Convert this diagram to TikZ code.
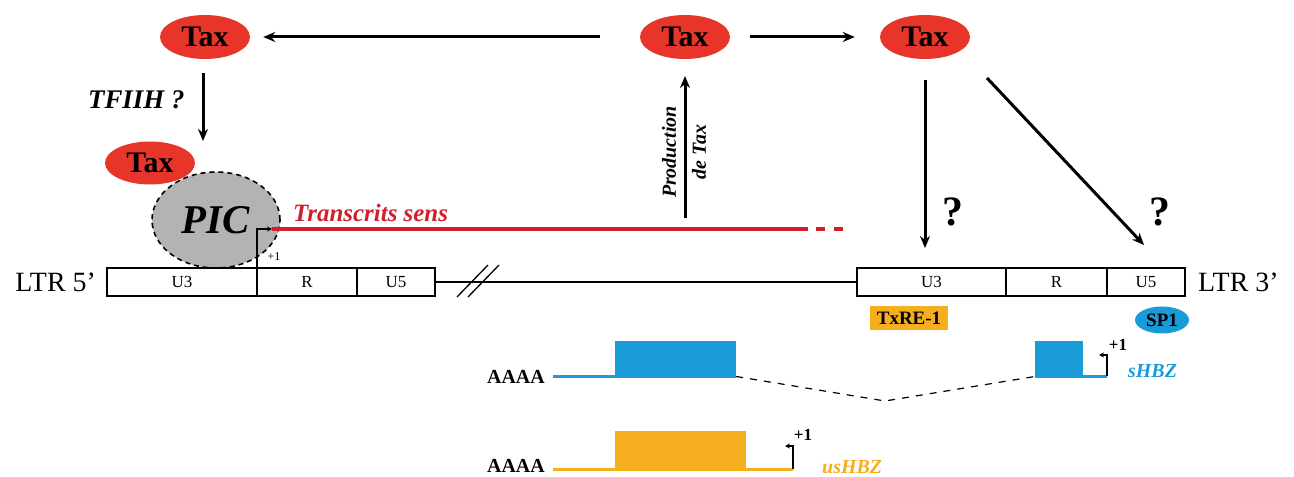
\documentclass[tikz,border=0pt]{standalone}
\usepackage{fontspec}
\setmainfont{Liberation Serif}
\usetikzlibrary{arrows.meta,shapes.geometric,positioning}
\definecolor{taxred}{HTML}{E8352A}
\definecolor{picgray}{HTML}{B3B3B3}
\definecolor{sensred}{HTML}{D0202E}
\definecolor{hbzblue}{HTML}{1A9AD6}
\definecolor{hbzorange}{HTML}{F5AE1E}
\begin{document}
\begin{tikzpicture}[x=1bp,y=-1bp,
    tax/.style={ellipse,fill=taxred,minimum width=90bp,minimum height=44bp,inner sep=0pt,
      font=\fontsize{30}{30}\selectfont\bfseries},
    fleche/.style={line width=3bp,-{Stealth[length=12bp,width=10bp]}},
    seg/.style={draw,line width=1.3bp,minimum height=28bp,inner sep=0pt,outer sep=0pt,
      font=\fontsize{17}{17}\selectfont},
    petit/.style={line width=1.3bp,-{Stealth[length=5bp,width=5bp]}},
    plusun/.style={font=\fontsize{17}{17}\selectfont\bfseries,inner sep=0pt},
    poly/.style={font=\fontsize{20}{20}\selectfont\bfseries,inner sep=0pt},
    quest/.style={font=\fontsize{42}{42}\selectfont\bfseries,inner sep=0pt}]
  \useasboundingbox (0,0) rectangle (1294,477);

  % Tax du haut
  \node[tax] (T1) at (205,37) {Tax};
  \node[tax] (T2) at (685,37) {Tax};
  \node[tax] (T3) at (925,37) {Tax};
  \draw[fleche] ([xshift=-40bp]T2.west) -- ([xshift=13bp]T1.east);
  \draw[fleche] ([xshift=20bp]T2.east) -- ([xshift=-25bp]T3.west);

  % PIC sur le LTR 5'
  \coordinate (d1) at (203,73);
  \coordinate (d2) at (203,141);
  \draw[fleche] (d1) -- (d2);
  \node[anchor=east,font=\fontsize{27}{27}\selectfont\bfseries\itshape] (tfiih) at (188,100) {TFIIH ?};
  \node[ellipse,draw,dash pattern=on 5bp off 4bp,line width=1.6bp,fill=picgray,minimum width=128bp,minimum height=96bp,
    inner sep=0pt,font=\fontsize{41}{41}\selectfont\bfseries\itshape] (PIC) at (216,220) {PIC};
  \node[tax,minimum height=43bp] (T4) at (150,163) {Tax};

  % LTR 5'
  \node[seg,minimum width=150bp] (u3a) at (182,282) {U3};
  \node[seg,minimum width=100bp,right=0pt of u3a] (ra) {R};
  \node[seg,minimum width=78bp,right=0pt of ra] (u5a) {U5};
  \node[anchor=east,inner sep=0pt,font=\fontsize{28}{28}\selectfont] (ltr5) at ([xshift=-11bp]u3a.west) {LTR 5’};

  % LTR 3'
  \node[seg,minimum width=149bp] (u3b) at (931.5,282) {U3};
  \node[seg,minimum width=101bp,right=0pt of u3b] (rb) {R};
  \node[seg,minimum width=78bp,right=0pt of rb] (u5b) {U5};
  \node[anchor=west,inner sep=0pt,font=\fontsize{28}{28}\selectfont] (ltr3) at ([xshift=13bp]u5b.east) {LTR 3’};

  \draw[line width=1.3bp] (u5a.east) -- (u3b.west);
  \draw[line width=1.3bp] (457,297) -- (488,265) (468,297) -- (499,265);

  % transcription sens
  \coordinate (tss) at (u3a.north east);
  \coordinate (s0) at (272,229);
  \coordinate (s1) at (808,229);
  \coordinate (s2) at (852,229);
  \draw[petit] (tss) |- (s0);
  \node[font=\fontsize{12}{12}\selectfont,inner sep=0pt] (p1) at (274,257) {+1};
  \draw[sensred,line width=3.5bp] (s0) -- (s1);
  \draw[sensred,line width=3.5bp,dash pattern=on 9bp off 9bp] ([xshift=8bp]s1) -- (s2);
  \node[sensred,anchor=west,inner sep=0pt,font=\fontsize{25}{25}\selectfont\bfseries\itshape] (sens) at (293,213) {Transcrits sens};

  % production de Tax
  \coordinate (pr1) at (685,218);
  \coordinate (pr2) at (685,76);
  \draw[fleche] (pr1) -- (pr2);
  \node[rotate=90,align=center,inner sep=0pt,font=\fontsize{20}{30}\selectfont\bfseries\itshape] (prod) at (684,152) {Production\\de Tax};

  % Tax sur le LTR 3'
  \coordinate (q1) at (925,80);
  \coordinate (q2) at (925,248);
  \coordinate (q3) at (987,78);
  \coordinate (q4) at (1144,245);
  \draw[fleche] (q1) -- (q2);
  \draw[fleche] (q3) -- (q4);
  \node[quest] (qa) at (953,212) {?};
  \node[quest] (qb) at (1160,212) {?};
  \node[fill=hbzorange,minimum width=78bp,minimum height=24bp,inner sep=0pt,
    font=\fontsize{19}{19}\selectfont\bfseries] (txre) at (909,318) {TxRE-1};
  \node[ellipse,fill=hbzblue,minimum width=54bp,minimum height=27bp,inner sep=0pt,
    font=\fontsize{19}{19}\selectfont\bfseries] (sp1) at (1162,320) {SP1};

  % sHBZ
  \node[poly] (aaa1) at (516,377) {AAAA};
  \node[fill=hbzblue,minimum width=121bp,minimum height=37bp,inner sep=0pt] (e1) at (675.5,359.5) {};
  \node[fill=hbzblue,minimum width=48bp,minimum height=37bp,inner sep=0pt] (e2) at (1059,359.5) {};
  \coordinate (sb0) at (553,376.5);
  \coordinate (sb1) at (1107,376.5);
  \coordinate (sb2) at (1099,355);
  \coordinate (epi) at (885,401);
  \draw[hbzblue,line width=3bp] (sb0) -- (sb0 -| e1.west);
  \draw[hbzblue,line width=3bp] (sb1 -| e2.east) -- (sb1);
  \draw[line width=1.2bp,dash pattern=on 7bp off 7bp] (sb0 -| e1.east) -- (epi) -- (sb0 -| e2.west);
  \draw[petit] (sb1) |- (sb2);
  \node[plusun] (p2) at (1118,345) {+1};
  \node[hbzblue,anchor=west,font=\fontsize{20}{20}\selectfont\bfseries\itshape,inner sep=0pt] (shbz) at (1128,371) {sHBZ};

  % usHBZ
  \node[poly] (aaa2) at (516,466) {AAAA};
  \node[fill=hbzorange,minimum width=131bp,minimum height=38bp,inner sep=0pt] (e3) at (680.5,450) {};
  \coordinate (ub0) at (553,469);
  \coordinate (ub1) at (793,469);
  \coordinate (ub2) at (785,446);
  \draw[hbzorange,line width=3bp] (ub0) -- (ub1);
  \draw[petit] (ub1) |- (ub2);
  \node[plusun] (p3) at (803,435) {+1};
  \node[hbzorange,anchor=west,font=\fontsize{20}{20}\selectfont\bfseries\itshape,inner sep=0pt] (ushbz) at (822,467) {usHBZ};
\end{tikzpicture}
\end{document}
